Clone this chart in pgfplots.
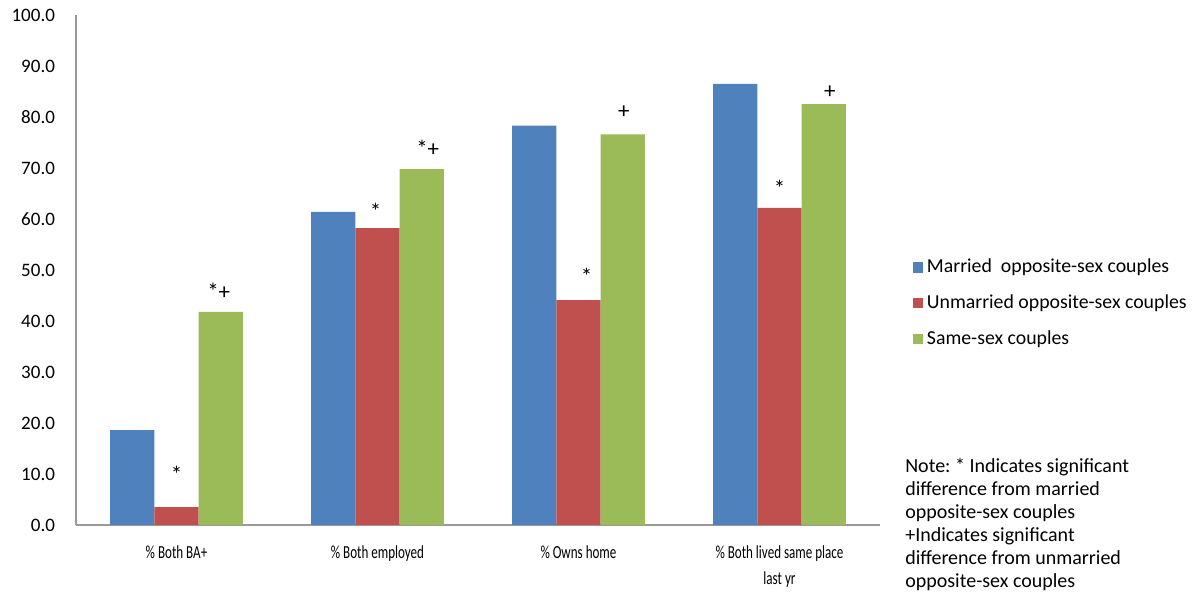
\documentclass[border=0pt]{standalone}
\usepackage{fontspec}
\setmainfont{Carlito}
\newfontfamily\condfont{Carlito}[FakeStretch=0.71]
\usepackage{pgfplots}
\pgfplotsset{compat=1.18}
\definecolor{cblue}{HTML}{4F81BD}
\definecolor{cred}{HTML}{C0504D}
\definecolor{cgreen}{HTML}{9BBB59}
\pgfplotsset{sqlegend/.style={legend image code/.code={\fill[##1] (0pt,-2.6pt) rectangle (5.2pt,2.6pt);}}}
\frenchspacing
\begin{document}
\begin{tikzpicture}
\useasboundingbox (-38pt,-36pt) rectangle (562.5pt,262.5pt);
\begin{axis}[
  at={(0,0)}, anchor=south west,
  scale only axis, width=402pt, height=255pt,
  xmin=-0.5, xmax=3.5, ymin=0, ymax=100,
  axis x line*=bottom, axis y line*=left,
  axis line style={black!40, line width=1pt, -},
  xtick={0,1,2,3},
  xticklabels={{\% Both BA+},{\% Both employed},{\% Owns home},{\% Both lived same place\\last yr}},
  xticklabel style={font=\condfont\fontsize{9.2}{12.8}\selectfont, align=center, yshift=-7pt},
  ytick={0,10,...,100},
  yticklabel style={font=\fontsize{9.5}{11}\selectfont, xshift=-7pt,
    /pgf/number format/.cd, fixed, fixed zerofill, precision=1, assume math mode=true},
  major tick length=0pt,
  font=\fontsize{9.5}{11.5}\selectfont,
  legend style={at={(1.04,0.435)}, anchor=west, draw=none, inner sep=0pt,
    font=\fontsize{9.9}{11.5}\selectfont, row sep=5.5pt},
  legend cell align=left,
  clip=false,
]
\addplot[ybar, sqlegend, bar width=0.22, bar shift=-0.22, fill=cblue, draw=none]
  coordinates {(0,18.6) (1,61.4) (2,78.3) (3,86.5)};
\addlegendentry{Married\ \ opposite-sex couples}
\addplot[ybar, sqlegend, bar width=0.22, bar shift=0, fill=cred, draw=none]
  coordinates {(0,3.5) (1,58.2) (2,44.1) (3,62.2)};
\addlegendentry{Unmarried opposite-sex couples}
\addplot[ybar, sqlegend, bar width=0.22, bar shift=0.22, fill=cgreen, draw=none]
  coordinates {(0,41.8) (1,69.8) (2,76.6) (3,82.5)};
\addlegendentry{Same-sex couples}
% significance markers
\addplot[forget plot, only marks, mark=*, mark size=0pt, mark options={draw=none, fill=none},
  point meta=explicit symbolic, nodes near coords, nodes near coords align=center,
  every node near coord/.append style={font=\fontsize{11.5}{12}\selectfont, inner sep=0pt, text=black, text opacity=1}]
  coordinates {(0,10.0)[*] (0.99,61.5)[*] (2.04,48.8)[*] (3,66.1)[*]
               (0.21,45.8)[*+] (1.25,73.8)[*+] (2.226,81.0)[+] (3.25,84.9)[+]};
\node[anchor=north west, inner sep=0pt, align=left, font=\fontsize{10}{11.5}\selectfont]
  at (rel axis cs:1.031,0.131) {Note: * Indicates significant\\difference from married\\opposite-sex couples\\+Indicates significant\\difference from unmarried\\opposite-sex couples};
\end{axis}
\end{tikzpicture}
\end{document}
